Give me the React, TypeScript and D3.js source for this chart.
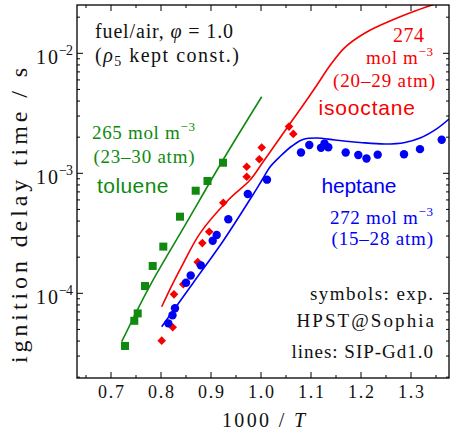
import React from "react";
import * as d3 from "d3";

const W = 450;
const H = 432;

// axis tick values / labels
const xMajorTicks = [0.7, 0.8, 0.9, 1.0, 1.1, 1.2, 1.3];
const xTickLabels = ["0.7", "0.8", "0.9", "1.0", "1.1", "1.2", "1.3"];
const xMinorTicks = [0.65, 0.75, 0.85, 0.95, 1.05, 1.15, 1.25, 1.35];
const yMajorExps = [-4, -3, -2];
const yTickLabelsExp = ["−4", "−3", "−2"];

// toluene (experiment: squares)
const tolueneX = [0.728, 0.7466, 0.7534, 0.768, 0.7834, 0.8046, 0.838, 0.8694, 0.893, 0.924];
const tolueneTau = [3.64e-5, 5.9e-5, 6.8e-5, 1.15e-4, 1.69e-4, 2.45e-4, 4.35e-4, 7.16e-4, 8.63e-4, 1.225e-3];
// toluene model line
const tolueneLineX = [0.7214, 0.778, 0.85, 0.924, 1.0014];
const tolueneLineTau = [3.95e-5, 1.161e-4, 3.81e-4, 1.291e-3, 4.345e-3];

// isooctane (experiment: diamonds)
const isooctaneX = [0.8014, 0.8234, 0.826, 0.8446, 0.8734, 0.8826, 0.8964, 0.9246, 0.9714, 0.9714, 0.9966, 1.0014, 1.056, 1.0646];
const isooctaneTau = [4.03e-5, 5.21e-5, 9.8e-5, 1.19e-4, 1.82e-4, 2.62e-4, 3.26e-4, 5.69e-4, 9.37e-4, 1.135e-3, 1.31e-3, 1.64e-3, 2.45e-3, 2.13e-3];
// isooctane model line
const isooctaneLineX = [0.8014, 0.822, 0.8446, 0.878, 0.9346, 0.978, 1.002, 1.028, 1.056, 1.0914, 1.114, 1.138, 1.168, 1.208, 1.258, 1.308, 1.348];
const isooctaneLineTau = [7.73e-5, 1.172e-4, 1.778e-4, 3.16e-4, 5.99e-4, 8.79e-4, 1.207e-3, 1.722e-3, 2.527e-3, 4.08e-3, 5.6e-3, 7.9e-3, 1.12e-2, 1.476e-2, 1.858e-2, 2.252e-2, 2.576e-2];

// heptane (experiment: circles)
const heptaneX = [0.8146, 0.823, 0.828, 0.85, 0.8594, 0.8796, 0.9034, 0.9114, 0.9346, 0.9736, 1.012, 1.08, 1.0966, 1.12, 1.127, 1.1346, 1.1694, 1.1946, 1.211, 1.2334, 1.286, 1.318, 1.3614];
const heptaneTau = [5.62e-5, 6.56e-5, 7.5e-5, 1.226e-4, 1.407e-4, 1.71e-4, 2.74e-4, 3.06e-4, 4.14e-4, 6.72e-4, 8.85e-4, 1.49e-3, 1.72e-3, 1.63e-3, 1.77e-3, 1.65e-3, 1.49e-3, 1.42e-3, 1.33e-3, 1.43e-3, 1.44e-3, 1.59e-3, 1.905e-3];
// heptane model line
const heptaneLineX = [0.8014, 0.8646, 0.9246, 0.9814, 1.002, 1.018, 1.038, 1.062, 1.084, 1.112, 1.148, 1.198, 1.248, 1.288, 1.318, 1.352, 1.376];
const heptaneLineTau = [5.27e-5, 1.226e-4, 2.743e-4, 6.38e-4, 8.79e-4, 1.129e-3, 1.38e-3, 1.689e-3, 1.916e-3, 1.968e-3, 1.895e-3, 1.807e-3, 1.754e-3, 1.807e-3, 1.968e-3, 2.36e-3, 2.835e-3];

const GREEN = "#0f8a0f";
const RED = "#f60000";
const BLUE = "#0000f4";
const SERIF = "'Liberation Serif', 'Times New Roman', serif";
const SANS = "'Liberation Sans', Arial, sans-serif";

const L = 77, R = 449, T = 5, B = 378;

export default function App() {
  const x = d3.scaleLinear().domain([0.632, 1.376]).range([L, R]);
  const y = d3.scaleLog().domain([Math.pow(10, -4.7058), Math.pow(10, -1.5975)]).range([B, T]);

  const line = d3
    .line<[number, number]>()
    .x((d) => x(d[0]))
    .y((d) => y(d[1]))
    .curve(d3.curveCatmullRom.alpha(0.5));

  const zip = (a: number[], b: number[]) => a.map((v, i) => [v, b[i]] as [number, number]);

  const yMinor: number[] = [];
  for (let e = -5; e <= -1; e++) {
    for (let m = 2; m <= 9; m++) {
      const v = m * Math.pow(10, e);
      const py = y(v);
      if (py > T + 0.5 && py < B - 0.5) yMinor.push(v);
    }
  }

  const majorLen = 6;
  const minorLen = 3;

  return (
    <svg
      width={W}
      height={H}
      viewBox={`0 0 ${W} ${H}`}
      style={{ position: "absolute", left: 0, top: 0, background: "#fff" }}
    >
      <defs>
        <clipPath id="plotclip">
          <rect x={L} y={T} width={R - L} height={B - T} />
        </clipPath>
      </defs>
      <rect x={0} y={0} width={W} height={H} fill="#fff" />

      {/* ticks */}
      <g stroke="#000" strokeWidth={1}>
        {xMajorTicks.map((v, i) => (
          <g key={"xM" + i}>
            <line x1={x(v)} x2={x(v)} y1={B} y2={B - majorLen} />
            <line x1={x(v)} x2={x(v)} y1={T} y2={T + majorLen} />
          </g>
        ))}
        {xMinorTicks.map((v, i) => (
          <g key={"xm" + i}>
            <line x1={x(v)} x2={x(v)} y1={B} y2={B - minorLen} />
            <line x1={x(v)} x2={x(v)} y1={T} y2={T + minorLen} />
          </g>
        ))}
        {yMajorExps.map((e, i) => (
          <g key={"yM" + i}>
            <line x1={L} x2={L + majorLen} y1={y(Math.pow(10, e))} y2={y(Math.pow(10, e))} />
            <line x1={R} x2={R - majorLen} y1={y(Math.pow(10, e))} y2={y(Math.pow(10, e))} />
          </g>
        ))}
        {yMinor.map((v, i) => (
          <g key={"ym" + i}>
            <line x1={L} x2={L + minorLen} y1={y(v)} y2={y(v)} />
            <line x1={R} x2={R - minorLen} y1={y(v)} y2={y(v)} />
          </g>
        ))}
      </g>

      {/* model lines */}
      <g clipPath="url(#plotclip)" fill="none" strokeWidth={1.6}>
        <path d={line(zip(tolueneLineX, tolueneLineTau)) || ""} stroke={GREEN} />
        <path d={line(zip(isooctaneLineX, isooctaneLineTau)) || ""} stroke={RED} />
        <path d={line(zip(heptaneLineX, heptaneLineTau)) || ""} stroke={BLUE} />
      </g>

      {/* experimental symbols */}
      <g clipPath="url(#plotclip)">
        {tolueneX.map((v, i) => (
          <rect key={"t" + i} x={x(v) - 4} y={y(tolueneTau[i]) - 4} width={8} height={8} fill={GREEN} />
        ))}
        {isooctaneX.map((v, i) => {
          const cx = x(v), cy = y(isooctaneTau[i]), s = 4.3;
          return (
            <path key={"i" + i} d={`M${cx},${cy - s}L${cx + s},${cy}L${cx},${cy + s}L${cx - s},${cy}Z`} fill={RED} />
          );
        })}
        {heptaneX.map((v, i) => (
          <circle key={"h" + i} cx={x(v)} cy={y(heptaneTau[i])} r={4.2} fill={BLUE} />
        ))}
      </g>

      {/* frame */}
      <rect x={L} y={T} width={R - L} height={B - T} fill="none" stroke="#000" strokeWidth={1.3} />

      {/* x tick labels */}
      <g fontFamily={SERIF} fontSize={18} fill="#111">
        {xMajorTicks.map((v, i) => (
          <text key={"xl" + i} x={x(v) - 13} y={398} textLength={26} lengthAdjust="spacing">
            {xTickLabels[i]}
          </text>
        ))}
      </g>
      {/* y tick labels */}
      <g fontFamily={SERIF} fill="#111">
        {yMajorExps.map((e, i) => (
          <text key={"yl" + i} x={36} y={y(Math.pow(10, e)) + 11} fontSize={20}>
            <tspan textLength={22} lengthAdjust="spacing">10</tspan>
            <tspan x={59} dy={-9} fontSize={14} textLength={14} lengthAdjust="spacing">
              {yTickLabelsExp[i]}
            </tspan>
          </text>
        ))}
      </g>

      {/* axis titles */}
      <text x={222} y={427} fontFamily={SERIF} fontSize={20} fill="#111" textLength={83} lengthAdjust="spacing">
        1000 / <tspan fontStyle="italic">T</tspan>
      </text>
      <text
        transform="translate(27,215.5) rotate(-90)"
        textAnchor="middle"
        fontFamily={SERIF}
        fontSize={24}
        fill="#111"
        textLength={295}
        lengthAdjust="spacing"
      >
        ignition delay time / s
      </text>

      {/* top-left note */}
      <g fontFamily={SERIF} fontSize={20} fill="#111">
        <text x={95} y={37.5} textLength={138} lengthAdjust="spacing">
          fuel/air, <tspan fontStyle="italic">φ</tspan> = 1.0
        </text>
        <text x={95} y={61.5} textLength={144} lengthAdjust="spacing">
          (<tspan fontStyle="italic">ρ</tspan><tspan fontSize={14} dy={4}>5</tspan><tspan dy={-4}> kept const.)</tspan>
        </text>
      </g>

      {/* toluene annotation */}
      <g fill={GREEN}>
        <text x={92} y={138.5} fontFamily={SERIF} fontSize={19} textLength={103} lengthAdjust="spacing">
          265 mol m<tspan dy={-8} fontSize={13}>−3</tspan>
        </text>
        <text x={93.5} y={163} fontFamily={SERIF} fontSize={19} textLength={101} lengthAdjust="spacing">
          (23–30 atm)
        </text>
        <text x={97} y={192.5} fontFamily={SANS} fontSize={21} textLength={71.5} lengthAdjust="spacing">
          toluene
        </text>
      </g>

      {/* isooctane annotation */}
      <g fill={RED}>
        <text x={393} y={41.5} fontFamily={SERIF} fontSize={20} textLength={31} lengthAdjust="spacing">
          274
        </text>
        <text x={366} y={63.5} fontFamily={SERIF} fontSize={19} textLength={67} lengthAdjust="spacing">
          mol m<tspan dy={-8} fontSize={13}>−3</tspan>
        </text>
        <text x={333} y={87} fontFamily={SERIF} fontSize={19} textLength={102} lengthAdjust="spacing">
          (20–29 atm)
        </text>
        <text x={318.5} y={115} fontFamily={SANS} fontSize={21} textLength={96.5} lengthAdjust="spacing">
          isooctane
        </text>
      </g>

      {/* heptane annotation */}
      <g fill={BLUE}>
        <text x={321.5} y={193} fontFamily={SANS} fontSize={21} textLength={75} lengthAdjust="spacing">
          heptane
        </text>
        <text x={330} y={223.5} fontFamily={SERIF} fontSize={19} textLength={103} lengthAdjust="spacing">
          272 mol m<tspan dy={-8} fontSize={13}>−3</tspan>
        </text>
        <text x={331.5} y={245} fontFamily={SERIF} fontSize={19} textLength={101.5} lengthAdjust="spacing">
          (15–28 atm)
        </text>
      </g>

      {/* source note */}
      <g fontFamily={SERIF} fontSize={19} fill="#111">
        <text x={310} y={300} textLength={123} lengthAdjust="spacing">symbols: exp.</text>
        <text x={296.5} y={326.5} textLength={137.5} lengthAdjust="spacing">HPST@Sophia</text>
        <text x={291.5} y={358} textLength={141.5} lengthAdjust="spacing">lines: SIP-Gd1.0</text>
      </g>
    </svg>
  );
}
